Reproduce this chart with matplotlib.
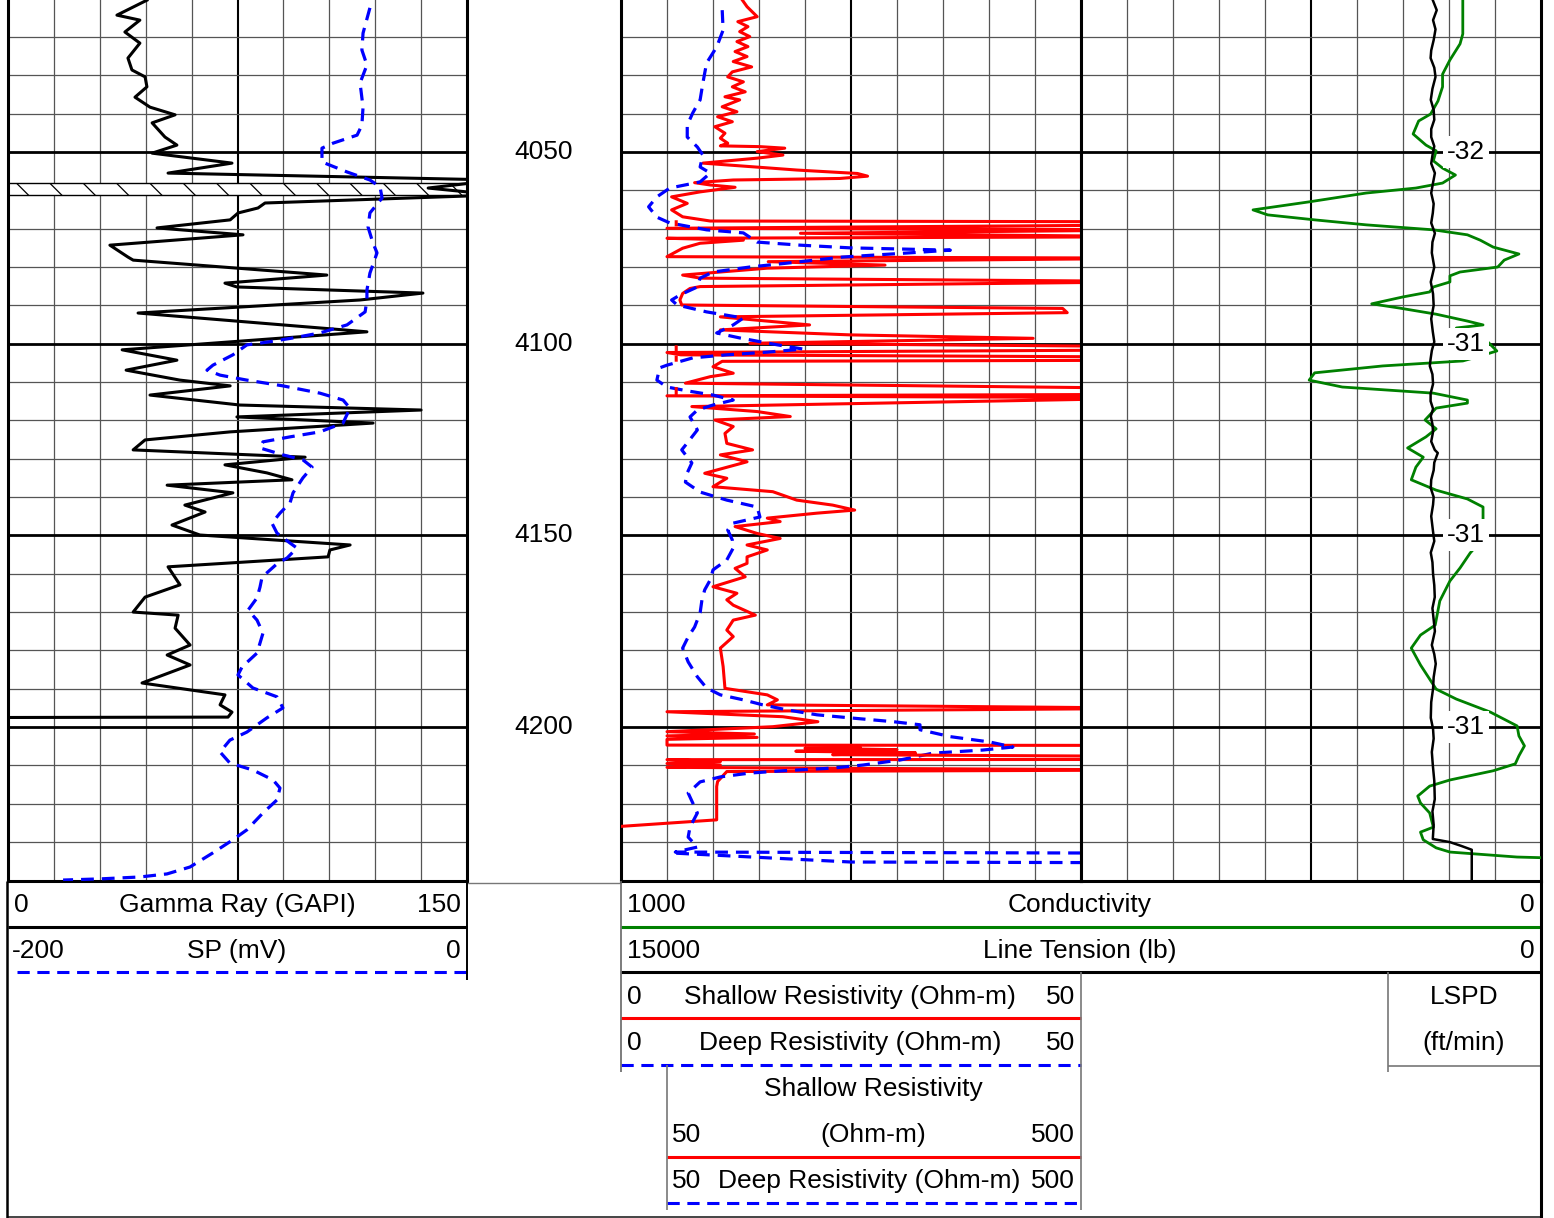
import numpy as np
import matplotlib.pyplot as plt
from matplotlib.transforms import blended_transform_factory

plt.rcParams['font.family'] = ['Liberation Sans', 'DejaVu Sans']
plt.rcParams['hatch.linewidth'] = 0.9

# depth window shown (ft)
TOP, BASE = 4010.35, 4240.15

# Gamma ray (GAPI)
gr_depth = [4010.4, 4014.3, 4015.6, 4018.7, 4021.6, 4025.5, 4028.6, 4030.4, 4033.0, 4035.7,
            4038.3, 4040.3, 4042.4, 4046.1, 4048.2, 4050.3, 4052.9, 4055.5, 4057.3, 4059.4,
            4061.2, 4063.3, 4064.6, 4065.9, 4067.7, 4069.8, 4071.6, 4074.3, 4077.4, 4078.2,
            4082.1, 4084.2, 4085.2, 4086.8, 4088.6, 4092.0, 4096.9, 4101.6, 4104.3, 4106.9,
            4109.5, 4111.0, 4113.4, 4116.0, 4117.3, 4119.1, 4120.7, 4123.0, 4125.1, 4127.7,
            4129.6, 4131.6, 4133.7, 4135.5, 4136.9, 4138.9, 4142.1, 4143.9, 4147.3, 4149.9,
            4152.5, 4153.8, 4155.6, 4158.2, 4162.9, 4166.1, 4170.0, 4170.8, 4174.2, 4178.6,
            4181.2, 4183.8, 4188.5, 4190.3, 4191.6, 4194.2, 4196.1, 4197.4, 4197.5]
gr_value = [45.4, 35.6, 43.1, 38.2, 43.1, 39.2, 40.5, 44.8, 45.4, 41.5,
            46.4, 54.6, 47.1, 51.3, 55.2, 47.1, 73.2, 52.3, 160.0, 137.3,
            160.0, 84.0, 81.7, 75.2, 72.6, 48.7, 76.8, 33.3, 39.2, 40.9,
            104.2, 70.9, 74.8, 135.6, 115.0, 42.5, 117.3, 37.3, 55.2, 38.6,
            56.2, 72.6, 46.4, 75.8, 135.0, 74.8, 119.3, 72.6, 44.8, 40.9,
            97.1, 70.9, 84.6, 92.8, 52.0, 73.5, 57.8, 64.4, 53.6, 62.7,
            111.8, 105.2, 104.6, 52.3, 56.2, 44.8, 40.9, 55.6, 54.6, 59.5,
            52.0, 59.5, 43.8, 59.5, 70.9, 69.3, 73.2, 71.9, 0.0]

# SP (mV)
sp_depth = [4012.4, 4019.0, 4023.4, 4027.3, 4032.0, 4038.3, 4043.0, 4045.6, 4047.7, 4049.0,
            4052.6, 4055.2, 4057.3, 4059.1, 4062.0, 4065.9, 4069.6, 4073.7, 4076.3, 4081.6,
            4086.0, 4088.6, 4091.7, 4095.1, 4097.2, 4098.5, 4099.6, 4100.3, 4102.9, 4105.6,
            4106.9, 4108.2, 4109.5, 4111.0, 4112.9, 4114.7, 4116.8, 4120.7, 4123.0, 4124.3,
            4125.6, 4127.2, 4129.0, 4130.3, 4132.2, 4135.0, 4138.9, 4141.5, 4144.2, 4146.8,
            4149.4, 4152.0, 4153.3, 4155.9, 4157.2, 4160.9, 4163.5, 4166.3, 4169.5, 4172.1,
            4175.5, 4180.7, 4184.3, 4186.4, 4189.8, 4192.1, 4195.0, 4197.6, 4201.3, 4203.4,
            4206.5, 4209.4, 4211.2, 4213.8, 4215.9, 4219.0, 4222.4, 4226.8, 4229.4, 4232.8,
            4236.5, 4238.3, 4239.1, 4239.6, 4239.9]
sp_value = [-42.3, -45.3, -45.8, -43.6, -46.6, -45.3, -45.8, -47.9, -58.4, -63.2,
            -63.2, -52.3, -42.3, -37.9, -37.0, -42.3, -43.1, -41.0, -39.2, -42.3,
            -43.6, -43.6, -44.4, -52.3, -64.1, -75.8, -87.2, -95.9, -102.0, -110.7,
            -113.3, -107.6, -95.9, -80.2, -64.1, -54.0, -51.0, -54.0, -64.1, -77.1,
            -88.9, -90.2, -80.2, -71.5, -67.5, -71.5, -75.8, -77.1, -81.5, -85.0,
            -82.8, -77.1, -74.1, -78.4, -82.4, -89.3, -90.2, -91.5, -95.4, -91.5,
            -88.9, -91.5, -98.0, -99.8, -93.3, -82.8, -80.2, -87.2, -95.9, -103.3,
            -107.6, -103.3, -93.3, -84.5, -81.5, -82.8, -88.9, -95.9, -102.0, -110.7,
            -120.7, -130.7, -142.5, -159.9, -176.0]

# Shallow resistivity (Ohm-m)
rs_depth = [4010.4, 4012.1, 4014.7, 4016.0, 4017.3, 4018.6, 4019.9, 4021.2, 4022.5, 4023.8,
            4025.1, 4026.4, 4027.8, 4029.1, 4030.4, 4031.7, 4033.0, 4034.3, 4035.6, 4036.4,
            4038.2, 4039.5, 4040.8, 4042.1, 4043.4, 4045.1, 4046.4, 4047.7, 4048.4, 4048.6,
            4049.0, 4049.9, 4050.8, 4051.6, 4052.9, 4054.7, 4055.6, 4056.3, 4056.9, 4057.3,
            4058.0, 4058.6, 4059.2, 4060.4, 4061.7, 4063.4, 4065.1, 4066.9, 4068.0, 4068.2,
            4069.0, 4069.9, 4070.3, 4071.2, 4072.1, 4072.5, 4073.0, 4073.8, 4075.1, 4077.3,
            4077.7, 4078.6, 4079.5, 4080.3, 4082.1, 4082.9, 4083.8, 4085.1, 4085.6, 4086.9,
            4088.6, 4089.9, 4090.8, 4091.9, 4093.0, 4095.1, 4096.4, 4097.7, 4098.6, 4099.9,
            4100.8, 4101.6, 4102.3, 4102.9, 4103.5, 4104.3, 4104.6, 4106.0, 4107.7, 4108.6,
            4110.3, 4111.7, 4113.2, 4113.6, 4114.1, 4116.4, 4117.7, 4119.0, 4119.9, 4121.6,
            4123.4, 4126.0, 4127.7, 4129.0, 4130.8, 4133.8, 4135.1, 4137.3, 4138.6, 4140.8,
            4142.1, 4143.4, 4144.2, 4145.5, 4146.4, 4147.7, 4149.5, 4150.8, 4152.5, 4153.8,
            4155.6, 4157.3, 4158.6, 4160.8, 4163.4, 4165.1, 4166.8, 4168.2, 4170.8, 4172.1,
            4174.7, 4176.4, 4179.4, 4184.2, 4189.9, 4191.6, 4192.9, 4194.2, 4195.1, 4196.0,
            4197.3, 4198.6, 4199.9, 4201.2, 4201.8, 4202.3, 4202.7, 4203.2, 4204.7, 4205.1,
            4205.5, 4205.9, 4206.3, 4206.7, 4207.2, 4207.8, 4208.5, 4209.0, 4209.5, 4209.9,
            4210.5, 4211.2, 4211.6, 4214.2, 4215.5, 4224.2, 4225.9]
rs_value = [13.2, 13.7, 14.8, 12.7, 13.8, 12.9, 14.0, 12.6, 13.8, 12.4,
            13.7, 12.2, 14.2, 12.1, 11.6, 13.3, 12.1, 13.5, 11.3, 12.9,
            11.0, 12.6, 10.5, 12.1, 10.2, 11.3, 10.8, 11.6, 10.8, 15.1,
            17.8, 14.8, 17.6, 14.8, 8.9, 19.1, 25.7, 26.8, 23.8, 12.2,
            8.0, 9.7, 12.4, 8.6, 5.5, 7.2, 5.5, 6.7, 9.7, 60.0,
            60.0, 5.0, 60.0, 19.5, 60.0, 5.0, 13.3, 8.6, 6.7, 5.0,
            60.0, 16.0, 28.7, 15.9, 6.7, 8.6, 60.0, 8.6, 7.5, 6.7,
            6.4, 6.6, 48.0, 48.5, 10.8, 20.5, 10.8, 24.9, 44.8, 14.0,
            60.0, 60.0, 5.0, 6.5, 60.0, 60.0, 11.0, 10.0, 12.2, 9.7,
            7.0, 60.0, 60.0, 5.0, 60.0, 7.7, 14.8, 18.4, 10.2, 12.2,
            11.3, 11.5, 14.3, 10.8, 13.7, 9.1, 11.5, 10.0, 16.5, 19.1,
            23.0, 25.4, 21.3, 15.9, 17.3, 12.4, 14.8, 17.3, 13.7, 15.9,
            13.7, 13.7, 12.4, 13.5, 10.0, 12.6, 11.5, 12.2, 14.6, 12.2,
            11.5, 12.2, 10.8, 11.1, 11.3, 15.9, 17.0, 15.9, 60.0, 5.0,
            17.6, 21.4, 16.5, 5.0, 14.5, 5.0, 14.8, 5.0, 5.0, 260.0,
            200.0, 300.0, 190.0, 320.0, 230.0, 700.0, 5.0, 10.8, 5.0, 10.8,
            5.0, 60.0, 11.5, 10.5, 10.4, 10.4, 0.0]

# Deep resistivity (Ohm-m)
rd_depth = [4013.0, 4018.2, 4022.6, 4026.8, 4032.0, 4036.4, 4039.8, 4043.0, 4046.1, 4048.7,
            4050.8, 4053.9, 4055.5, 4057.8, 4059.4, 4061.7, 4064.3, 4067.0, 4068.5, 4070.3,
            4071.1, 4073.5, 4074.3, 4075.0, 4075.6, 4076.3, 4077.4, 4079.0, 4080.0, 4081.3,
            4082.9, 4085.2, 4087.3, 4088.6, 4089.9, 4091.7, 4093.3, 4095.1, 4097.2, 4098.5,
            4100.3, 4101.4, 4102.2, 4102.9, 4103.7, 4105.6, 4106.3, 4109.5, 4111.3, 4112.3,
            4113.4, 4114.7, 4116.0, 4117.3, 4119.1, 4122.5, 4125.9, 4127.7, 4131.1, 4133.7,
            4136.1, 4138.7, 4140.8, 4142.6, 4145.2, 4146.8, 4148.6, 4151.2, 4153.3, 4156.4,
            4159.0, 4161.6, 4164.2, 4166.8, 4170.2, 4173.9, 4176.5, 4179.4, 4183.0, 4186.9,
            4189.8, 4191.6, 4192.9, 4194.2, 4195.5, 4196.8, 4197.6, 4198.6, 4199.4, 4200.7,
            4202.5, 4203.9, 4205.2, 4206.0, 4206.8, 4208.6, 4209.9, 4210.7, 4211.4, 4212.0,
            4213.0, 4214.3, 4217.2, 4222.4, 4226.1, 4228.7, 4231.3, 4232.6, 4232.9, 4235.2,
            4235.4]
rd_value = [11.0, 11.1, 10.4, 9.3, 8.9, 8.6, 7.8, 7.2, 7.2, 8.3,
            8.9, 8.6, 9.7, 8.6, 5.3, 3.9, 3.0, 3.9, 5.3, 9.3,
            13.3, 14.8, 19.5, 24.9, 35.8, 31.4, 24.1, 18.0, 14.0, 10.0,
            8.6, 8.3, 6.4, 5.5, 6.1, 9.3, 13.3, 12.2, 10.4, 12.9,
            17.0, 19.8, 15.9, 11.5, 7.8, 5.0, 4.2, 3.9, 5.0, 7.2,
            10.0, 12.2, 10.0, 8.3, 7.5, 8.3, 7.2, 6.6, 7.7, 7.2,
            7.0, 8.6, 11.5, 14.8, 15.1, 12.2, 11.6, 12.1, 12.2, 11.5,
            10.0, 9.7, 9.1, 8.8, 8.6, 8.0, 7.3, 6.7, 7.3, 8.3,
            9.3, 10.8, 13.3, 15.4, 18.0, 21.3, 24.9, 29.6, 32.5, 32.5,
            35.8, 40.1, 42.6, 39.3, 33.9, 30.3, 26.3, 23.0, 17.6, 14.0,
            10.8, 8.6, 7.3, 8.3, 7.5, 7.3, 8.3, 5.9, 60.0, 250.0,
            600.0]

# Conductivity (mmho/m)
cond_depth = [4010.4, 4019.2, 4021.8, 4026.0, 4029.7, 4033.0, 4036.7, 4040.1, 4041.9, 4045.3,
              4048.2, 4049.7, 4052.3, 4054.2, 4056.0, 4058.1, 4059.4, 4060.7, 4063.0, 4065.1,
              4066.4, 4067.7, 4069.0, 4070.3, 4071.6, 4073.0, 4074.8, 4076.6, 4078.2, 4080.0,
              4081.3, 4082.3, 4083.9, 4085.2, 4086.5, 4087.8, 4089.6, 4090.7, 4092.3, 4094.1,
              4095.1, 4095.9, 4099.0, 4101.9, 4103.5, 4104.5, 4105.8, 4107.6, 4109.5, 4111.3,
              4112.9, 4114.7, 4115.5, 4116.8, 4119.9, 4122.2, 4124.3, 4127.2, 4129.6, 4132.2,
              4135.5, 4138.2, 4140.5, 4142.6, 4145.7, 4150.0, 4154.6, 4158.5, 4161.9, 4167.1,
              4173.4, 4176.0, 4179.4, 4183.8, 4187.5, 4190.1, 4192.7, 4196.1, 4199.7, 4202.3,
              4204.9, 4207.5, 4209.6, 4211.4, 4213.8, 4215.4, 4218.0, 4219.8, 4222.4, 4226.1,
              4227.4, 4229.4, 4231.5, 4232.6, 4233.9, 4234.1, 4240.1]
cond_value = [85, 85, 88, 99, 107, 107, 112, 120, 133, 139,
              125, 114, 117, 107, 93, 107, 136, 190, 252, 313,
              297, 246, 190, 117, 80, 66, 52, 24, 40, 47,
              88, 99, 99, 117, 121, 150, 184, 154, 114, 80,
              63, 92, 60, 48, 70, 85, 172, 246, 252, 216,
              117, 80, 80, 114, 126, 114, 125, 145, 128, 136,
              141, 114, 80, 63, 63, 60, 77, 88, 99, 110,
              115, 131, 141, 131, 121, 114, 92, 55, 26, 24,
              18, 24, 28, 52, 99, 121, 134, 131, 121, 117,
              131, 128, 114, 99, 26, -5, -5]

# Line tension (lb)
ten_depth = [4010.4, 4013.0, 4015.6, 4018.0, 4020.8, 4023.5, 4025.5, 4028.0, 4030.4, 4033.5,
             4036.4, 4039.0, 4041.6, 4044.0, 4046.1, 4048.5, 4050.3, 4053.0, 4055.5, 4058.0,
             4060.7, 4063.5, 4065.9, 4068.5, 4071.2, 4073.5, 4076.3, 4080.0, 4083.9, 4087.0,
             4090.0, 4093.5, 4096.9, 4099.5, 4101.8, 4104.0, 4105.8, 4108.0, 4110.5, 4113.0,
             4115.0, 4117.0, 4118.9, 4121.0, 4123.0, 4125.5, 4127.7, 4128.5, 4131.0, 4133.0,
             4135.5, 4137.7, 4140.0, 4142.0, 4145.0, 4148.5, 4151.5, 4154.5, 4157.0, 4160.0,
             4163.0, 4166.1, 4169.0, 4172.0, 4175.0, 4178.6, 4181.0, 4183.5, 4187.0, 4190.0,
             4193.5, 4197.6, 4200.5, 4203.0, 4206.5, 4209.9, 4214.0, 4218.8, 4222.0, 4225.5,
             4229.2, 4230.0, 4231.0, 4232.0, 4240.1]
ten_value = [1764, 1700, 1760, 1720, 1750, 1790, 1800, 1740, 1720, 1770,
             1797, 1750, 1740, 1790, 1790, 1740, 1764, 1790, 1730, 1760,
             1790, 1750, 1764, 1790, 1730, 1770, 1780, 1740, 1797, 1760,
             1750, 1790, 1764, 1740, 1780, 1800, 1813, 1770, 1760, 1800,
             1800, 1760, 1797, 1770, 1760, 1790, 1732, 1683, 1740, 1750,
             1790, 1797, 1750, 1760, 1790, 1764, 1740, 1797, 1770, 1760,
             1740, 1732, 1770, 1750, 1730, 1780, 1740, 1716, 1750, 1760,
             1790, 1797, 1760, 1750, 1780, 1764, 1740, 1732, 1770, 1750,
             1764, 1487, 1300, 1129, 1129]

depth_labels = [4050, 4100, 4150, 4200]
lspd_labels = ['-32', '-31', '-31', '-31']
shade_top, shade_base = 4058.1, 4061.2

W, H = 1554, 1218
LOG_BOTTOM = 881
DASH = (0, (4, 2.5))
GRID_C = '#555555'

fig = plt.figure(figsize=(W / 100, H / 100), dpi=100)


def track(x0, x1):
    ax = fig.add_axes([x0 / W, 1 - LOG_BOTTOM / H, (x1 - x0) / W, LOG_BOTTOM / H])
    ax.set_ylim(BASE, TOP)
    ax.set_xticks([])
    ax.set_yticks([])
    return ax


def overlay(x0, x1):
    ax = track(x0, x1)
    ax.patch.set_visible(False)
    for s in ax.spines.values():
        s.set_visible(False)
    return ax


def draw_grid(ax):
    for i in range(1, 10):
        f = i / 10
        mid = i == 5
        ax.plot([f, f], [0, 1], transform=ax.transAxes, color='black' if mid else GRID_C,
                lw=1.5 if mid else 0.9, zorder=0.5)
    for d in range(4020, 4240, 10):
        heavy = d % 50 == 0
        ax.axhline(d, color='black' if heavy else GRID_C, lw=2.0 if heavy else 0.9, zorder=0.5)
    for side in ('left', 'right', 'bottom'):
        ax.spines[side].set_linewidth(2.2)
    ax.spines['top'].set_visible(False)


# track 1: gamma ray + SP
ax_gr = track(8, 467)
ax_gr.set_xlim(0, 150)
draw_grid(ax_gr)
ax_gr.axhspan(shade_top, shade_base, facecolor='white', edgecolor='black', hatch='\\',
              lw=1.0, zorder=1)
ax_gr.plot(gr_value, gr_depth, color='black', lw=2.2, zorder=3)

ax_sp = overlay(8, 467)
ax_sp.set_xlim(-200, 0)
ax_sp.plot(sp_value, sp_depth, color='blue', lw=2.3, ls=DASH)

# depth track
ax_dep = overlay(467, 621)
ax_dep.set_xlim(0, 1)
for d in depth_labels:
    ax_dep.text(0.5, d, str(d), transform=ax_dep.get_yaxis_transform(),
                ha='center', va='center', fontsize=19)

# track 2: resistivity
ax_res = track(621, 1081)
ax_res.set_xlim(0, 50)
draw_grid(ax_res)
ax_res.plot(rs_value, rs_depth, color='red', lw=2.2, zorder=3)
ax_res.plot(rd_value, rd_depth, color='blue', lw=2.3, ls=DASH, zorder=3)

# backup scale 50-500
ax_bk = overlay(667, 1081)
ax_bk.set_xlim(50, 500)
rs = np.array(rs_value, dtype=float)
rd = np.array(rd_value, dtype=float)
ax_bk.plot(np.where(rs > 50, rs, np.nan), rs_depth, color='red', lw=2.2)
ax_bk.plot(np.where(rd > 50, rd, np.nan), rd_depth, color='blue', lw=2.3, ls=DASH)

# track 3 grid
ax_t3 = track(1081, 1541)
ax_t3.set_xlim(0, 1)
draw_grid(ax_t3)

# conductivity and tension span tracks 2+3
ax_cond = overlay(621, 1541)
ax_cond.set_xlim(1000, 0)
ax_cond.plot(cond_value, cond_depth, color='#008000', lw=2.0)

ax_ten = overlay(621, 1541)
ax_ten.set_xlim(15000, 0)
ax_ten.plot(ten_value, ten_depth, color='black', lw=1.8)
tr = blended_transform_factory(ax_ten.transAxes, ax_ten.transData)
for d, lab in zip(depth_labels, lspd_labels):
    ax_ten.text(0.918, d, lab, transform=tr, ha='center', va='center', fontsize=19,
                bbox=dict(boxstyle='square,pad=0.15', facecolor='white', edgecolor='none'),
                zorder=5)

# header area (pixel coordinates)
hdr = fig.add_axes([0, 0, 1, 1])
hdr.set_xlim(0, W)
hdr.set_ylim(H, 0)
hdr.axis('off')
hdr.patch.set_visible(False)


def hline(y, x0, x1, color='black', lw=2.2, ls='-'):
    hdr.plot([x0, x1], [y, y], color=color, lw=lw, ls=ls, clip_on=False,
             solid_capstyle='butt')


def vline(x, y0, y1, color='black', lw=1.2):
    hdr.plot([x, x], [y0, y1], color=color, lw=lw, clip_on=False, solid_capstyle='butt')


hline(883, 467, 621, color='#777777', lw=1.0)
hline(927, 8, 467)
hline(972, 17, 467, color='blue', lw=2.2, ls=DASH)
hline(927, 621, 1541, color='#008000')
hline(972, 621, 1541)
hline(1018, 621, 1081, color='red')
hline(1065, 621, 1081, color='blue', lw=2.2, ls=DASH)
hline(1066, 1388, 1541, color='#777777', lw=1.2)
hline(1157, 667, 1081, color='red')
hline(1203, 667, 1081, color='blue', lw=2.2, ls=DASH)
hline(1217, 7, 1541, color='#444444', lw=1.4)

vline(7, 881, 1218, lw=1.8)
vline(1541, 881, 1218, lw=2.2)
vline(467, 881, 980, lw=1.4)
vline(621, 881, 1072, color='#666666', lw=1.2)
vline(667, 1065, 1210, color='#777777', lw=1.2)
vline(1081, 972, 1210, color='#777777', lw=1.2)
vline(1388, 972, 1072, color='#777777', lw=1.2)

header_text = [
    ('0', 14, 905, 'left'), ('Gamma Ray (GAPI)', 237, 905, 'center'), ('150', 461, 905, 'right'),
    ('-200', 12, 951, 'left'), ('SP (mV)', 237, 951, 'center'), ('0', 461, 951, 'right'),
    ('1000', 627, 905, 'left'), ('Conductivity', 1080, 905, 'center'), ('0', 1535, 905, 'right'),
    ('15000', 627, 951, 'left'), ('Line Tension (lb)', 1080, 951, 'center'), ('0', 1535, 951, 'right'),
    ('0', 627, 997, 'left'), ('Shallow Resistivity (Ohm-m)', 850, 997, 'center'), ('50', 1075, 997, 'right'),
    ('0', 627, 1043, 'left'), ('Deep Resistivity (Ohm-m)', 850, 1043, 'center'), ('50', 1075, 1043, 'right'),
    ('Shallow Resistivity', 873, 1089, 'center'),
    ('50', 672, 1135, 'left'), ('(Ohm-m)', 873, 1135, 'center'), ('500', 1075, 1135, 'right'),
    ('50', 672, 1181, 'left'), ('Deep Resistivity (Ohm-m)', 869, 1181, 'center'), ('500', 1075, 1181, 'right'),
    ('LSPD', 1464, 997, 'center'), ('(ft/min)', 1464, 1043, 'center'),
]
for txt, x, y, ha in header_text:
    hdr.text(x, y, txt, ha=ha, va='center', fontsize=19)

fig.savefig('out.png', dpi=100, facecolor='white')
